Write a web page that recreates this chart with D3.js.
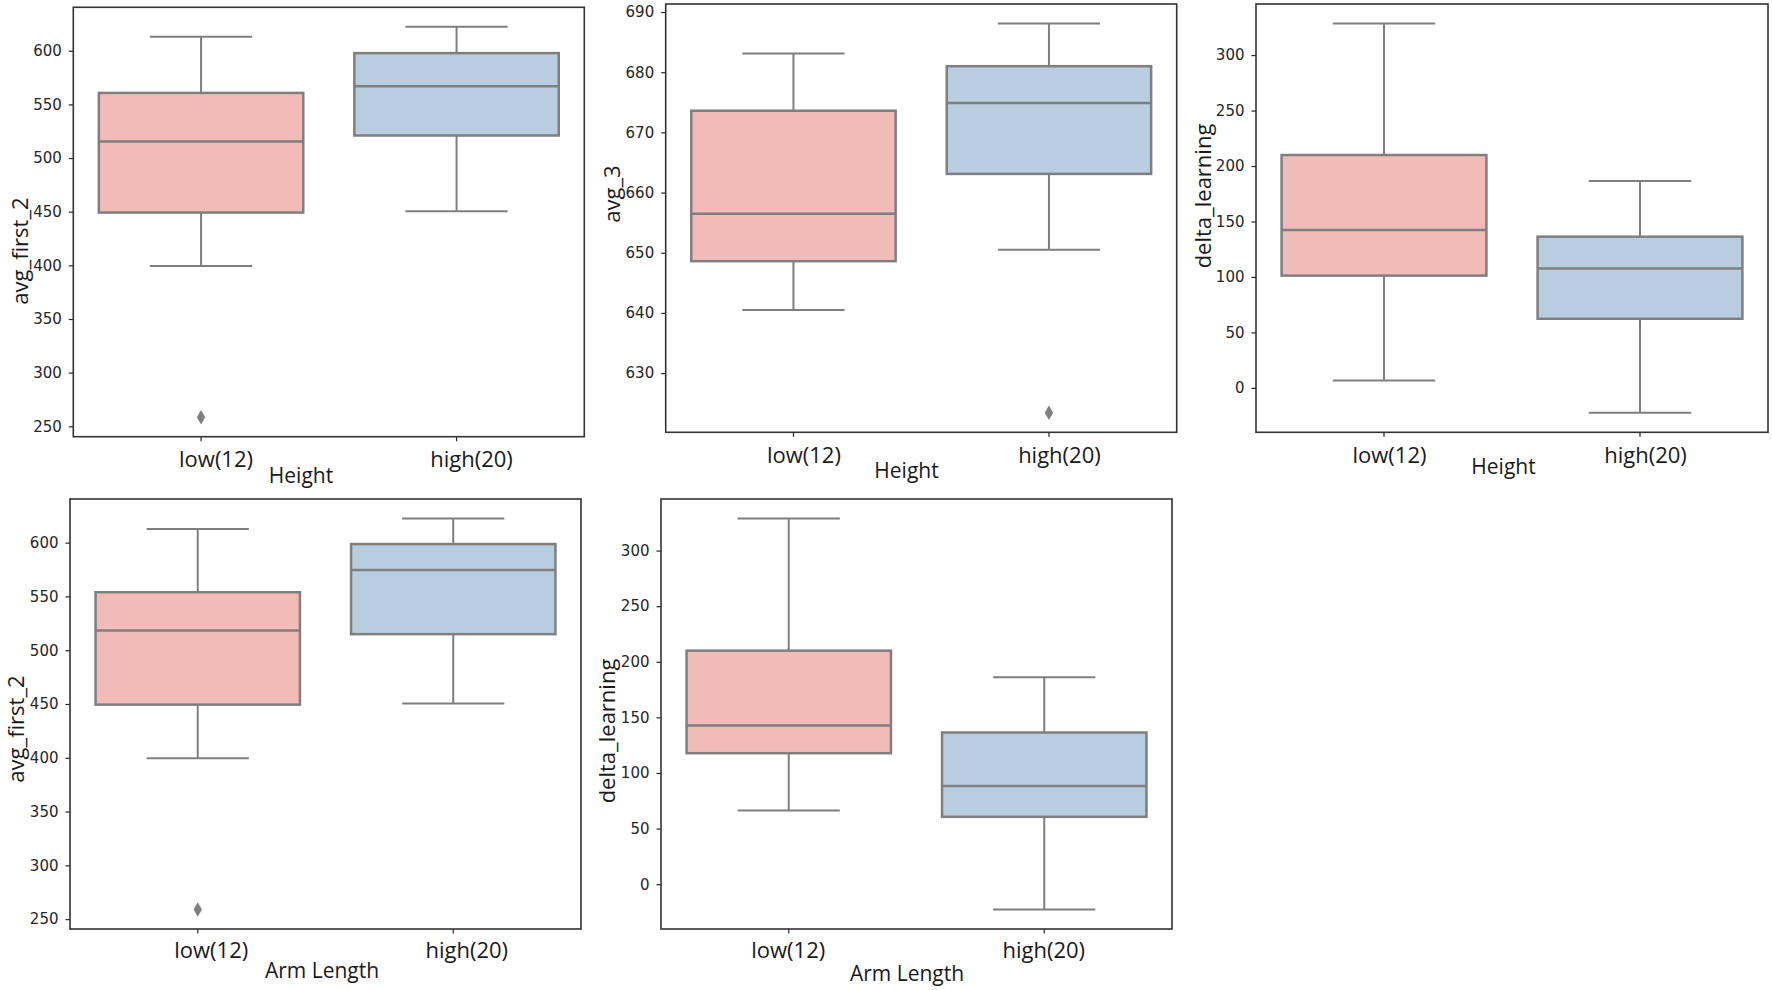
<!DOCTYPE html>
<html>
<head>
<meta charset="utf-8">
<script src="https://cdn.jsdelivr.net/npm/d3@7"></script>
<style>
  body { margin: 0; background: #fff; }
  .ytick text { font-family: "DejaVu Sans", sans-serif; font-size: 15px; fill: #262626; }
  .lab { font-family: "Open Sans", sans-serif; fill: #1a1a1a; }
</style>
</head>
<body>
<div id="chart"></div>
<script>
// categories on every x axis
const categories = ["low(12)", "high(20)"];

// box stats per category: [lower whisker, Q1, median, Q3, upper whisker]
const heightAvgFirst2 = [[399.3, 449.2, 515.4, 560.7, 613.0], [450.4, 521.0, 566.8, 597.8, 622.3]];
const heightAvgFirst2Outliers = [[258.5], []];

const heightAvg3 = [[640.5, 648.6, 656.5, 673.6, 683.1], [650.5, 663.1, 674.9, 681.0, 688.1]];
const heightAvg3Outliers = [[], [623.4]];

const heightDelta = [[6.6, 101.2, 142.3, 209.9, 328.5], [-22.5, 62.3, 107.5, 136.3, 186.4]];
const heightDeltaOutliers = [[], []];

const armAvgFirst2 = [[399.6, 449.4, 518.4, 553.9, 612.6], [450.4, 514.9, 574.5, 598.7, 622.4]];
const armAvgFirst2Outliers = [[259.0], []];

const armDelta = [[66.3, 117.8, 142.6, 210.0, 328.8], [-22.7, 60.6, 88.2, 136.4, 186.1]];
const armDeltaOutliers = [[], []];

// y tick labels
const ticksAvgFirst2 = [250, 300, 350, 400, 450, 500, 550, 600];
const ticksAvg3 = [630, 640, 650, 660, 670, 680, 690];
const ticksDelta = [0, 50, 100, 150, 200, 250, 300];

const fills = ["#f1bbb8", "#b9cde0"];
const lineCol = "#7f7f7f";

// panel placement (layout only)
let panels = [
  { x: 73.3, y: 7.3, w: 511, h: 429.4, stats: heightAvgFirst2, out: heightAvgFirst2Outliers, ticks: ticksAvgFirst2,
    ylabel: "avg_first_2", xlabel: "Height", yl: [20, 251], xl: [301, 483], tickBase: 467, tickDx: 15 },
  { x: 665.7, y: 4, w: 511, h: 428.3, stats: heightAvg3, out: heightAvg3Outliers, ticks: ticksAvg3,
    ylabel: "avg_3", xlabel: "Height", yl: [612, 194], xl: [906.5, 478], tickBase: 462.7, tickDx: 10.5 },
  { x: 1256, y: 4, w: 512, h: 428.3, stats: heightDelta, out: heightDeltaOutliers, ticks: ticksDelta,
    ylabel: "delta_learning", xlabel: "Height", yl: [1203, 196], xl: [1503.5, 474], tickBase: 462.7, tickDx: 5.5 },
  { x: 70, y: 499, w: 511, h: 430, stats: armAvgFirst2, out: armAvgFirst2Outliers, ticks: ticksAvgFirst2,
    ylabel: "avg_first_2", xlabel: "Arm Length", yl: [16, 729], xl: [322, 978], tickBase: 958, tickDx: 13.5 },
  { x: 661, y: 499, w: 511, h: 430, stats: armDelta, out: armDeltaOutliers, ticks: ticksDelta,
    ylabel: "delta_learning", xlabel: "Arm Length", yl: [607, 731], xl: [907, 981], tickBase: 958, tickDx: -0.5 }
];

let svg = d3.select("#chart").append("svg")
  .attr("width", 1772)
  .attr("height", 990)
  .style("background", "#fff");

panels.forEach(function(p) {
  // seaborn-like y limits: data range padded by 5%
  let all = p.stats.flat().concat(p.out.flat());
  let lo = d3.min(all), hi = d3.max(all);
  let pad = (hi - lo) * 0.05;

  let x = d3.scaleBand().domain(categories).range([0, p.w]);
  let y = d3.scaleLinear().domain([lo - pad, hi + pad]).range([p.h, 0]);

  let g = svg.append("g").attr("transform", "translate(" + p.x + "," + p.y + ")");

  // y axis
  let ya = g.append("g").attr("class", "ytick")
    .call(d3.axisLeft(y).tickValues(p.ticks).tickSize(4.5).tickPadding(7));
  ya.select(".domain").remove();
  ya.selectAll("line").attr("stroke", "#262626").attr("stroke-width", 1.2);
  ya.selectAll("text").attr("font-family", null).attr("font-size", null);

  // x axis ticks
  let xa = g.append("g").attr("transform", "translate(0," + p.h + ")")
    .call(d3.axisBottom(x).tickSize(4.5).tickFormat(""));
  xa.select(".domain").remove();
  xa.selectAll("line").attr("stroke", "#262626").attr("stroke-width", 1.2);

  let bw = x.bandwidth() * 0.8;
  let cap = bw / 2;

  let boxes = g.selectAll(".box")
    .data(p.stats)
    .enter().append("g")
    .attr("transform", function(d, i) {
      return "translate(" + (x(categories[i]) + x.bandwidth() / 2) + ",0)";
    });

  // whiskers
  boxes.append("line")
    .attr("y1", function(d) { return y(d[0]); })
    .attr("y2", function(d) { return y(d[1]); })
    .attr("stroke", lineCol).attr("stroke-width", 2);
  boxes.append("line")
    .attr("y1", function(d) { return y(d[3]); })
    .attr("y2", function(d) { return y(d[4]); })
    .attr("stroke", lineCol).attr("stroke-width", 2);
  // caps
  [0, 4].forEach(function(k) {
    boxes.append("line")
      .attr("x1", -cap / 2).attr("x2", cap / 2)
      .attr("y1", function(d) { return y(d[k]); })
      .attr("y2", function(d) { return y(d[k]); })
      .attr("stroke", lineCol).attr("stroke-width", 2);
  });
  // box
  boxes.append("rect")
    .attr("x", -bw / 2)
    .attr("width", bw)
    .attr("y", function(d) { return y(d[3]); })
    .attr("height", function(d) { return y(d[1]) - y(d[3]); })
    .attr("fill", function(d, i) { return fills[i]; })
    .attr("stroke", lineCol).attr("stroke-width", 2.5);
  // median
  boxes.append("line")
    .attr("x1", -bw / 2).attr("x2", bw / 2)
    .attr("y1", function(d) { return y(d[2]); })
    .attr("y2", function(d) { return y(d[2]); })
    .attr("stroke", lineCol).attr("stroke-width", 2.5);

  // outliers
  p.out.forEach(function(vals, i) {
    g.selectAll(null)
      .data(vals)
      .enter().append("path")
      .attr("d", d3.symbol().type(d3.symbolDiamond).size(60))
      .attr("transform", function(v) {
        return "translate(" + (x(categories[i]) + x.bandwidth() / 2) + "," + y(v) + ")";
      })
      .attr("fill", lineCol);
  });

  // frame
  g.append("rect")
    .attr("width", p.w).attr("height", p.h)
    .attr("fill", "none")
    .attr("stroke", "#333").attr("stroke-width", 1.6);

  // x tick labels
  categories.forEach(function(c) {
    svg.append("text").attr("class", "lab")
      .attr("x", p.x + x(c) + x.bandwidth() / 2 + p.tickDx)
      .attr("y", p.tickBase)
      .attr("text-anchor", "middle")
      .style("font-size", "22px")
      .text(c);
  });

  // axis titles
  svg.append("text").attr("class", "lab")
    .attr("x", p.xl[0]).attr("y", p.xl[1])
    .attr("text-anchor", "middle")
    .style("font-size", "21px")
    .text(p.xlabel);

  svg.append("text").attr("class", "lab")
    .attr("transform", "translate(" + p.yl[0] + "," + p.yl[1] + ") rotate(-90)")
    .attr("text-anchor", "middle")
    .attr("dy", "0.35em")
    .style("font-size", "22px")
    .text(p.ylabel);
});
</script>
</body>
</html>
